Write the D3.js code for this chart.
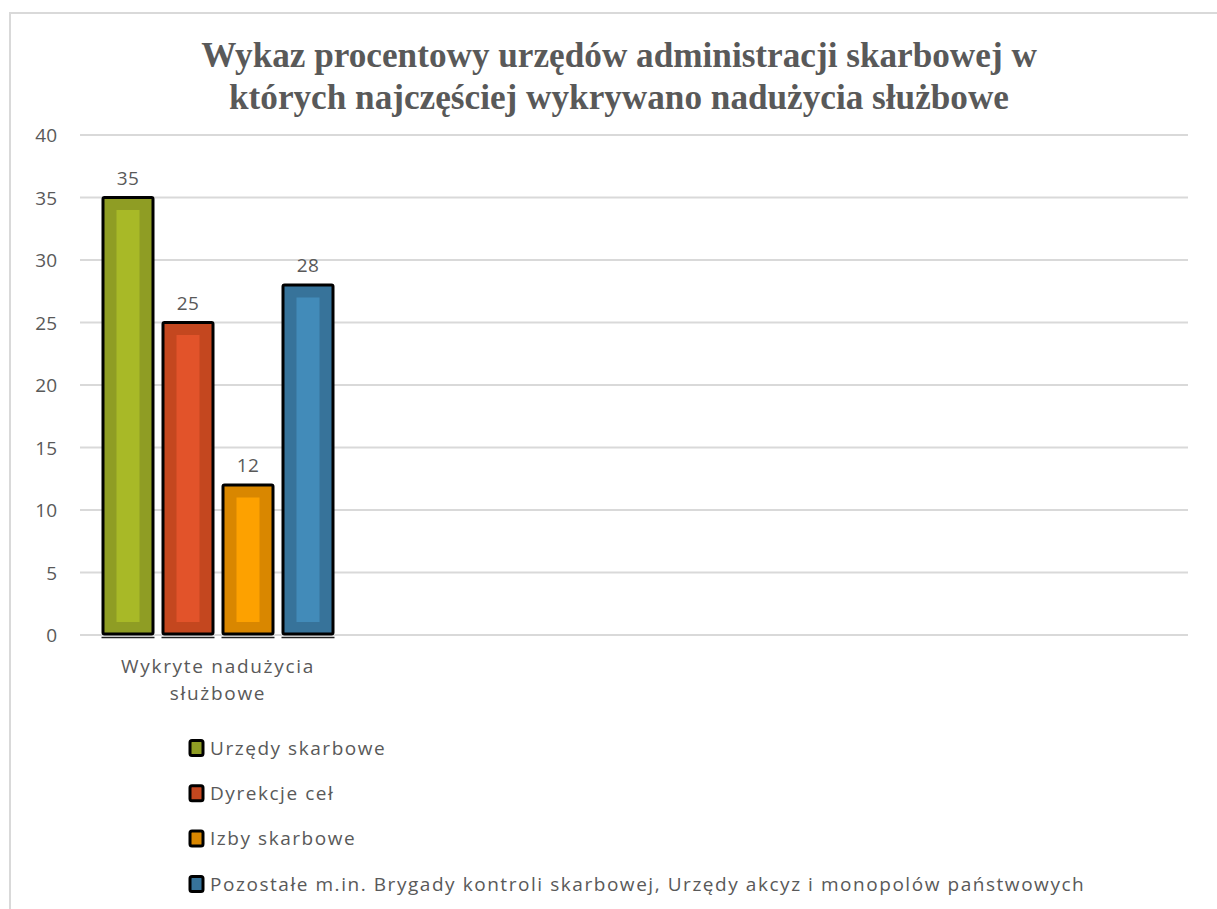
<!DOCTYPE html>
<html><head><meta charset="utf-8">
<script src="https://cdn.jsdelivr.net/npm/d3@7"></script>
<style>
html,body{margin:0;padding:0;background:#fff;overflow:hidden;}
svg text{font-family:"Open Sans","Noto Sans",sans-serif;fill:#595959;}
</style></head>
<body>
<svg id="c" width="1217" height="909"></svg>
<script>
const titleLines = ["Wykaz procentowy urzędów administracji skarbowej w", "których najczęściej wykrywano nadużycia służbowe"];
const categories = ["Wykryte nadużycia służbowe"];
const categoryLabelLines = ["Wykryte nadużycia", "służbowe"];
const seriesNames = ["Urzędy skarbowe", "Dyrekcje ceł", "Izby skarbowe", "Pozostałe m.in. Brygady kontroli skarbowej, Urzędy akcyz i monopolów państwowych"];
const seriesValues = [35, 25, 12, 28];
const outerColors = ["#8f9d24", "#c4471f", "#d98700", "#37739a"];
const innerColors = ["#a8b927", "#e2532a", "#fda100", "#428bb9"];
const yTicks = [0, 5, 10, 15, 20, 25, 30, 35, 40];

const svg = d3.select("#c");
// chart border
svg.append("rect").attr("x", 10).attr("y", 13).attr("width", 1240).attr("height", 940)
  .attr("fill", "#fff").attr("stroke", "#d9d9d9").attr("stroke-width", 2);

const plot = {left: 80, right: 1188, top: 135, bottom: 635};
const y = d3.scaleLinear().domain([0, 40]).range([plot.bottom, plot.top]);
const x0 = d3.scaleBand().domain(categories).range([plot.left, plot.left + 276]).paddingInner(0).paddingOuter(0.1);
const x1 = d3.scaleBand().domain(seriesNames).range([0, x0.bandwidth()]).paddingInner(1/6).paddingOuter(0);

// gridlines
svg.append("g").selectAll("line").data(yTicks).join("line")
  .attr("x1", plot.left).attr("x2", plot.right)
  .attr("y1", d => y(d)).attr("y2", d => y(d))
  .attr("stroke", "#d9d9d9").attr("stroke-width", 2);

// y axis labels
const yAxis = d3.axisLeft(y).tickValues(yTicks).tickSize(0).tickPadding(0);
const ya = svg.append("g").attr("transform", `translate(57,0)`).call(yAxis);
ya.select(".domain").remove();
ya.selectAll("text").attr("font-size", 19).attr("fill", "#595959")
  .style("font-family", '"Open Sans","Noto Sans",sans-serif').attr("dy", "0.35em");

// bars
const g = svg.append("g");
const data = seriesNames.map((s, i) => ({s, v: seriesValues[i], i, c: categories[0]}));
const bx = d => x0(d.c) + x1(d.s);
const bw = x1.bandwidth();
// shadow under bars
g.selectAll("line.sh").data(data).join("line").attr("class", "sh")
  .attr("x1", d => bx(d) - 1.5).attr("x2", d => bx(d) + bw + 1.5)
  .attr("y1", plot.bottom + 2.5).attr("y2", plot.bottom + 2.5)
  .attr("stroke", "#222").attr("stroke-width", 1.5);
g.selectAll("rect.outer").data(data).join("rect").attr("class", "outer")
  .attr("x", d => bx(d)).attr("y", d => y(d.v))
  .attr("width", bw).attr("height", d => y(0) - y(d.v) - 1)
  .attr("rx", 1.5)
  .attr("fill", d => outerColors[d.i]).attr("stroke", "#000").attr("stroke-width", 3);
g.selectAll("rect.inner").data(data).join("rect").attr("class", "inner")
  .attr("x", d => bx(d) + 13.5).attr("y", d => y(d.v) + 12.5)
  .attr("width", bw - 27).attr("height", d => y(0) - y(d.v) - 25.5)
  .attr("fill", d => innerColors[d.i]);
// data labels
g.selectAll("text.lbl").data(data).join("text").attr("class", "lbl")
  .attr("x", d => bx(d) + bw / 2).attr("y", d => y(d.v) - 13)
  .attr("text-anchor", "middle").attr("font-size", 19).style("letter-spacing", "0.5px").text(d => d.v);

// category label
const cx = x0(categories[0]) + x0.bandwidth() / 2;
svg.append("g").selectAll("text").data(categoryLabelLines).join("text")
  .attr("x", cx).attr("y", (d, i) => 673 + i * 27)
  .attr("text-anchor", "middle").attr("font-size", 19).style("letter-spacing", "1.7px").text(d => d);

// title
svg.append("g").selectAll("text").data(titleLines).join("text")
  .attr("x", 619).attr("y", (d, i) => 67 + i * 42)
  .attr("text-anchor", "middle")
  .style("font-family", '"Liberation Serif","Times New Roman",serif')
  .attr("font-weight", "bold").attr("font-size", 35.2).attr("fill", "#595959").text(d => d);

// legend
const lg = svg.append("g").selectAll("g").data(seriesNames).join("g")
  .attr("transform", (d, i) => `translate(190,${748 + i * 45.3})`);
lg.append("rect").attr("x", 0).attr("y", -7.5).attr("width", 13).attr("height", 15).attr("rx", 2)
  .attr("fill", (d, i) => outerColors[i]).attr("stroke", "#000").attr("stroke-width", 3);
lg.append("text").attr("x", 20).attr("y", 0).attr("dy", "0.35em").attr("font-size", 19)
  .style("letter-spacing", "1.55px").text(d => d);
</script>
</body></html>
